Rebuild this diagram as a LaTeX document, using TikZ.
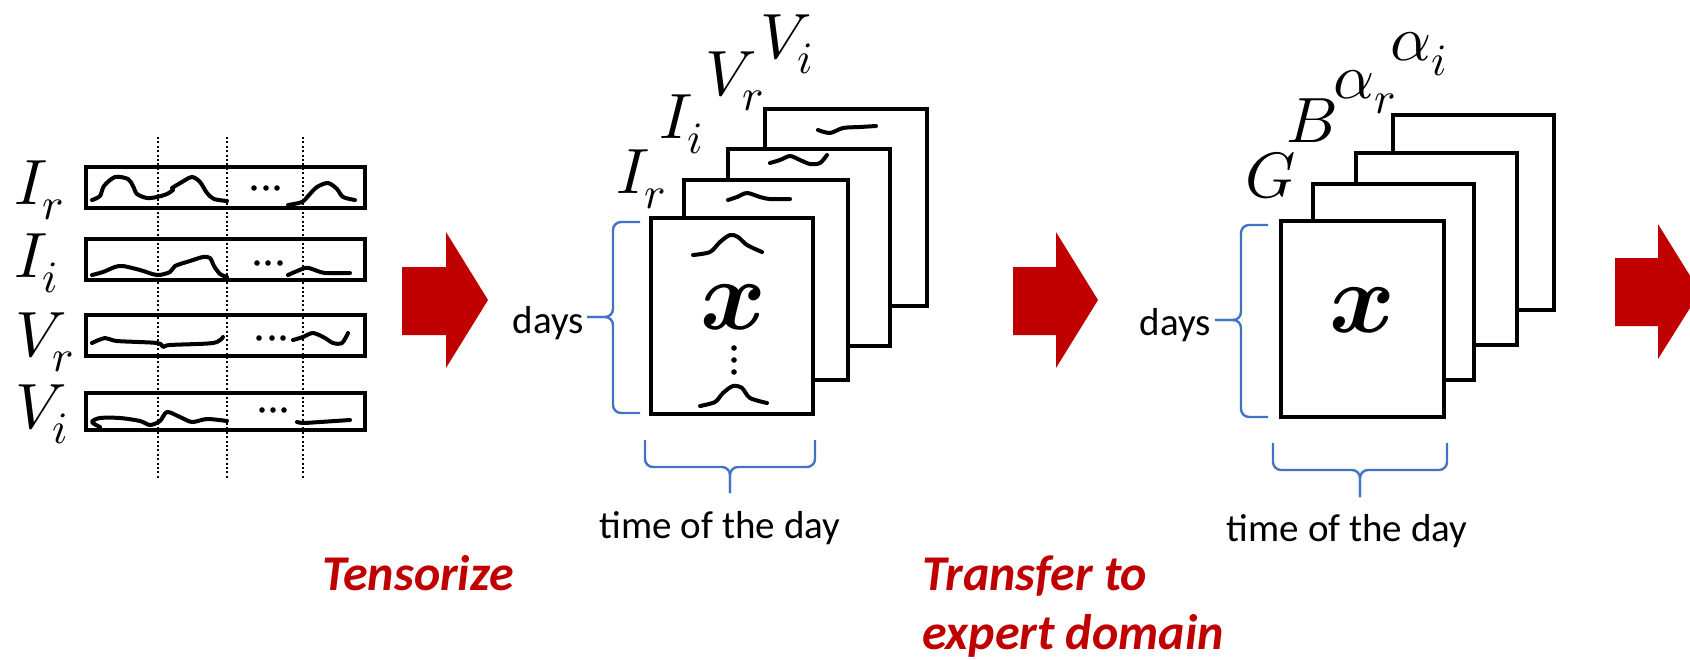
\documentclass[tikz,border=0pt]{standalone}
\usepackage{fontspec}
\usepackage{unicode-math}
\setmainfont{Carlito}
\setmathfont{Latin Modern Math}
\definecolor{arrowred}{RGB}{192,0,0}
\definecolor{braceblue}{RGB}{68,114,196}
\tikzset{
  frame/.style={line width=2.4pt, fill=white},
  wave/.style={line width=2pt, line cap=round, line join=round},
  guide/.style={line width=1pt, dash pattern=on 1pt off 1.2pt},
  bracestyle/.style={draw=braceblue, line width=1.2pt, rounded corners=4pt},
  fatarrow/.style={fill=arrowred},
  lbl/.style={inner sep=0pt, anchor=base west, font=\fontsize{32}{32}\selectfont},
  bigx/.style={inner sep=0pt, font=\fontsize{50}{50}\selectfont},
  captext/.style={inner sep=0pt, font=\fontsize{19.5}{20}\selectfont},
  stepname/.style={inner sep=0pt, anchor=base west, text=arrowred, font=\fontsize{25}{30}\selectfont\bfseries\itshape},
  dotmark/.style={fill=black},
}
\begin{document}
\begin{tikzpicture}[x=0.5pt,y=-0.5pt]
\useasboundingbox (0,0) rectangle (1690,659);

% ---------- left group: four time series ----------
\draw[frame] (86,167) rectangle (365,208);
\draw[frame] (86,239) rectangle (365,280);
\draw[frame] (86,315) rectangle (365,356);
\draw[frame] (86,393) rectangle (365,430);
\foreach \gx in {158,227,303} \draw[guide] (\gx,137) -- (\gx,478);

\node[lbl] (lir) at (14,204) {$I_r$};
\node[lbl] (lii) at (14,277) {$I_i$};
\node[lbl] (lvr) at (15,356) {$V_r$};
\node[lbl] (lvi) at (15,428) {$V_i$};

% Ir
\draw[wave] plot[smooth] coordinates {(92,200) (100,196) (104,186) (115,177) (128,179) (133,186) (137,194) (147,198) (157,197) (167,194) (173,190)};
\draw[wave] plot[smooth] coordinates {(172,188) (182,182) (192,177) (200,182) (207,193) (214,199) (227,201)};
\draw[wave] plot[smooth] coordinates {(288,205) (302,202) (309,195) (317,187) (328,183) (337,189) (343,197) (355,200)};
\foreach \dx in {254,266,277} \fill[dotmark] (\dx,188) circle[radius=1.4pt];
% Ii
\draw[wave] plot[smooth] coordinates {(92,275) (103,272) (115,267) (123,266) (140,270) (157,275) (170,272) (175,266) (190,261) (203,257) (210,258) (214,266) (220,274) (227,277)};
\draw[wave] plot[smooth] coordinates {(288,275) (305,268) (312,269) (325,273) (350,273)};
\foreach \dx in {257,268,280} \fill[dotmark] (\dx,263) circle[radius=1.4pt];
% Vr
\draw[wave] plot[smooth] coordinates {(92,343) (105,338) (117,341) (157,343) (163,347) (170,345) (213,343) (223,337)};
\draw[wave] plot[smooth] coordinates {(293,340) (303,337) (313,333) (325,338) (333,343) (342,343) (348,333)};
\foreach \dx in {259,272,283} \fill[dotmark] (\dx,338) circle[radius=1.4pt];
% Vi
\draw[wave] plot[smooth] coordinates {(100,427) (92,422) (100,418) (120,418) (140,421) (150,425) (160,421) (167,412) (180,417) (192,422) (207,419) (227,421)};
\draw[wave] plot[smooth] coordinates {(297,422) (303,423) (320,422) (350,420)};
\foreach \dx in {262,273,284} \fill[dotmark] (\dx,410) circle[radius=1.4pt];

% ---------- arrows ----------
\fill[fatarrow] (402,267) -- (446,267) -- (446,232) -- (488,300) -- (446,368) -- (446,335) -- (402,335) -- cycle;
\fill[fatarrow] (1013,267) -- (1056,267) -- (1056,232) -- (1098,300) -- (1056,368) -- (1056,335) -- (1013,335) -- cycle;
\begin{scope}
\clip (0,0) rectangle (1690,659);
\fill[fatarrow] (1615,258) -- (1658,258) -- (1658,224) -- (1700,292) -- (1658,359) -- (1658,326) -- (1615,326) -- cycle;
\end{scope}

% ---------- middle tensor ----------
\draw[frame] (765,109) rectangle (927,306);
\draw[wave] plot[smooth] coordinates {(818,130) (830,133) (843,128) (860,127) (876,126)};
\draw[frame] (728,149) rectangle (890,346);
\draw[wave] plot[smooth] coordinates {(770,163) (780,160) (790,156) (800,160) (810,164) (820,163) (827,155)};
\draw[frame] (684,180) rectangle (848,380);
\draw[wave] plot[smooth] coordinates {(728,200) (737,197) (747,193) (760,197) (770,199) (790,199)};
\draw[frame] (651,218) rectangle (813,414);
\draw[wave] plot[smooth] coordinates {(693,255) (710,252) (720,242) (730,235) (738,237) (747,245) (762,252)};
\draw[wave] plot[smooth] coordinates {(700,406) (715,402) (723,393) (733,386) (742,388) (750,398) (767,403)};
\foreach \dy in {348,360,372} \fill[dotmark] (734,\dy) circle[radius=1.4pt];
\node[bigx] (xm) at (733,307) {$\symbfit{x}$};

\node[lbl] (mir) at (616,193) {$I_r$};
\node[lbl] (mii) at (659,138) {$I_i$};
\node[lbl] (mvr) at (705,95) {$V_r$};
\node[lbl] (mvi) at (760,58) {$V_i$};

\draw[bracestyle] (640,222) -- (613,222) -- (613,317) -- (587,317);
\draw[bracestyle] (640,413) -- (613,413) -- (613,317) -- (587,317);
\draw[bracestyle] (645,440) -- (645,467) -- (730,467) -- (730,493);
\draw[bracestyle] (815,440) -- (815,467) -- (730,467) -- (730,493);
\node[captext, anchor=base east] (daysm) at (584,333) {days};
\node[captext, anchor=base] (todm) at (720,538) {time of the day};

% ---------- right tensor ----------
\draw[frame] (1393,115) rectangle (1554,310);
\draw[frame] (1356,153) rectangle (1517,345);
\draw[frame] (1313,184) rectangle (1474,380);
\draw[frame] (1281,221) rectangle (1444,417);
\node[bigx] (xr) at (1362,310) {$\symbfit{x}$};

\node[lbl] (rg) at (1245,197) {$G$};
\node[lbl] (rb) at (1286,142) {$B$};
\node[lbl] (rar) at (1333,98) {$\alpha_r$};
\node[lbl] (rai) at (1390,60) {$\alpha_i$};

\draw[bracestyle] (1268,225) -- (1241,225) -- (1241,320) -- (1215,320);
\draw[bracestyle] (1268,417) -- (1241,417) -- (1241,320) -- (1215,320);
\draw[bracestyle] (1273,443) -- (1273,470) -- (1360,470) -- (1360,497);
\draw[bracestyle] (1447,443) -- (1447,470) -- (1360,470) -- (1360,497);
\node[captext, anchor=base east] (daysr) at (1211,335) {days};
\node[captext, anchor=base] (todr) at (1347,541) {time of the day};

% ---------- step names ----------
\node[stepname] (s1) at (322,590) {Tensorize};
\node[stepname] (s2a) at (922,590) {Transfer to};
\node[stepname] (s2b) at (922,649) {expert domain};
\end{tikzpicture}
\end{document}
